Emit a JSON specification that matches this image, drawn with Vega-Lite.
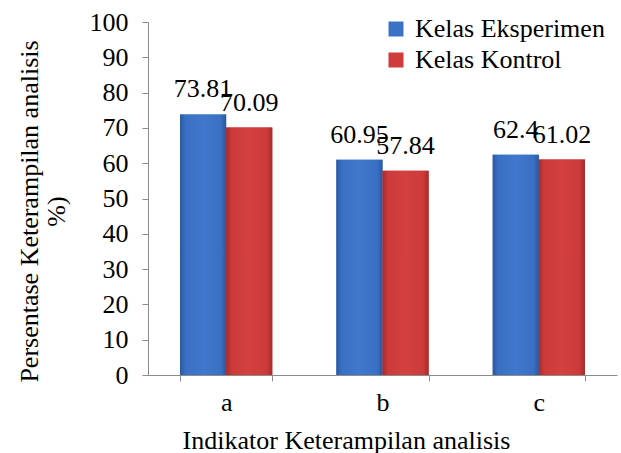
{
  "$schema": "https://vega.github.io/schema/vega-lite/v6.json",
  "width": 469,
  "height": 353,
  "autosize": "none",
  "padding": {"left": 148, "top": 22, "right": 4, "bottom": 78},
  "background": "white",
  "config": {
    "view": {"stroke": null},
    "font": "Times New Roman, Liberation Serif, serif",
    "axis": {
      "labelFont": "Times New Roman, Liberation Serif, serif",
      "titleFont": "Times New Roman, Liberation Serif, serif",
      "labelFontSize": 26,
      "titleFontSize": 26,
      "titleFontWeight": "normal",
      "labelColor": "black",
      "titleColor": "black",
      "domainColor": "#8c8c8c",
      "tickColor": "#8c8c8c",
      "tickSize": 6,
      "grid": false
    },
    "legend": {
      "labelFont": "Times New Roman, Liberation Serif, serif",
      "labelFontSize": 26,
      "labelColor": "black",
      "labelLimit": 400
    }
  },
  "data": {
    "values": [
      {"ind": "a", "kelas": "Kelas Eksperimen", "nilai": 73.81, "lbl": "73.81"},
      {"ind": "a", "kelas": "Kelas Kontrol", "nilai": 70.09, "lbl": "70.09"},
      {"ind": "b", "kelas": "Kelas Eksperimen", "nilai": 60.95, "lbl": "60.95"},
      {"ind": "b", "kelas": "Kelas Kontrol", "nilai": 57.84, "lbl": "57.84"},
      {"ind": "c", "kelas": "Kelas Eksperimen", "nilai": 62.4, "lbl": "62.4"},
      {"ind": "c", "kelas": "Kelas Kontrol", "nilai": 61.02, "lbl": "61.02"}
    ]
  },
  "encoding": {
    "x": {
      "field": "ind",
      "type": "nominal",
      "scale": {"paddingInner": 0.41, "paddingOuter": 0.205},
      "axis": {
        "labelAngle": 0,
        "tickBand": "extent",
        "labelPadding": 8,
        "title": "Indikator Keterampilan analisis",
        "titlePadding": 12,
        "titleX": 198
      }
    },
    "xOffset": {"field": "kelas", "type": "nominal", "sort": ["Kelas Eksperimen", "Kelas Kontrol"]},
    "y": {
      "field": "nilai",
      "type": "quantitative",
      "scale": {"domain": [0, 100], "nice": false},
      "axis": {
        "values": [0, 10, 20, 30, 40, 50, 60, 70, 80, 90, 100],
        "labelPadding": 14,
        "title": ["Persentase Keterampilan analisis", "%)"],
        "titlePadding": 20,
        "titleY": 189,
        "titleLineHeight": 27
      }
    }
  },
  "layer": [
    {
      "mark": {"type": "bar"},
      "encoding": {
        "color": {
          "field": "kelas",
          "type": "nominal",
          "scale": {"domain": ["Kelas Eksperimen", "Kelas Kontrol"], "range": ["#3c72c6", "#d03c3c"]},
          "legend": {
            "title": null,
            "orient": "none",
            "legendX": 235,
            "legendY": -6,
            "symbolType": "square",
            "symbolSize": 225,
            "symbolStrokeWidth": 0,
            "labelOffset": 6,
            "rowPadding": 5,
            "padding": 0
          }
        }
      }
    },
    {
      "transform": [{"filter": "datum.kelas === 'Kelas Eksperimen'"}],
      "mark": {
        "type": "bar",
        "fill": {
          "gradient": "linear", "x1": 0, "y1": 0, "x2": 1, "y2": 0,
          "stops": [
            {"offset": 0, "color": "#2b589e"},
            {"offset": 0.12, "color": "#3a70c4"},
            {"offset": 0.5, "color": "#3f78cc"},
            {"offset": 0.88, "color": "#3a70c4"},
            {"offset": 1, "color": "#2b589e"}
          ]
        }
      }
    },
    {
      "transform": [{"filter": "datum.kelas === 'Kelas Kontrol'"}],
      "mark": {
        "type": "bar",
        "fill": {
          "gradient": "linear", "x1": 0, "y1": 0, "x2": 1, "y2": 0,
          "stops": [
            {"offset": 0, "color": "#a52b2b"},
            {"offset": 0.12, "color": "#cc3a3a"},
            {"offset": 0.5, "color": "#d44040"},
            {"offset": 0.88, "color": "#cc3a3a"},
            {"offset": 1, "color": "#a52b2b"}
          ]
        }
      }
    },
    {
      "mark": {"type": "text", "dy": -17, "baseline": "alphabetic", "fontSize": 26, "font": "Times New Roman, Liberation Serif, serif", "color": "black"},
      "encoding": {"text": {"field": "lbl", "type": "nominal"}}
    }
  ]
}
